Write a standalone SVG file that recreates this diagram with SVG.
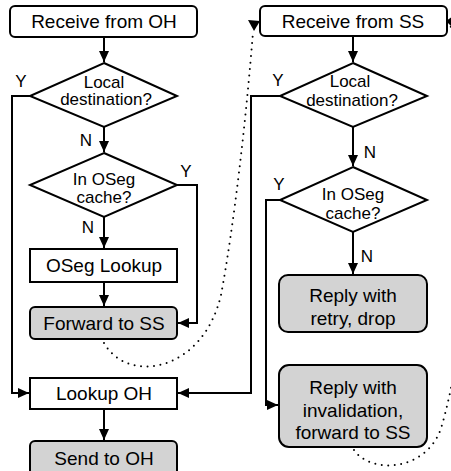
<svg xmlns="http://www.w3.org/2000/svg" width="451" height="471" viewBox="0 0 451 471">
<style>
.box{fill:#fff;stroke:#000;stroke-width:2}
.gray{fill:#d3d3d3;stroke:#000;stroke-width:2}
.dia{fill:#fff;stroke:#000;stroke-width:2}
.t{font-family:"Liberation Sans",Arial,Helvetica,sans-serif;font-size:19px;text-anchor:middle;fill:#000}
.d{font-family:"Liberation Sans",Arial,Helvetica,sans-serif;font-size:17px;text-anchor:middle;fill:#000}
.lbl{font-family:"Liberation Sans",Arial,Helvetica,sans-serif;font-size:17px;text-anchor:middle;fill:#000}
.c{fill:none;stroke:#000;stroke-width:2}
.dot{fill:none;stroke:#000;stroke-width:2;stroke-dasharray:0 6.5;stroke-linecap:round}
</style>
<defs>
<marker id="ah" markerUnits="userSpaceOnUse" markerWidth="12" markerHeight="10" refX="11" refY="5" orient="auto">
<path d="M0,0 L11,5 L0,10 Z" fill="#000"/>
</marker>
</defs>
<g id="connectors">
<path class="c" d="M104,37 V62" marker-end="url(#ah)"/>
<path class="c" d="M104,127 V152" marker-end="url(#ah)"/>
<path class="c" d="M104,217 V248" marker-end="url(#ah)"/>
<path class="c" d="M104,282 V306" marker-end="url(#ah)"/>
<path class="c" d="M30,96 H12 V393 H29" marker-end="url(#ah)"/>
<path class="c" d="M177,185 H197 V323 H178" marker-end="url(#ah)"/>
<path class="c" d="M104,409 V440" marker-end="url(#ah)"/>
<path class="c" d="M280,96 H251 V393 H178" marker-end="url(#ah)"/>
<path class="c" d="M353,36 V62" marker-end="url(#ah)"/>
<path class="c" d="M353,127 V166" marker-end="url(#ah)"/>
<path class="c" d="M353,232 V274" marker-end="url(#ah)"/>
<path class="c" d="M280,200 H266 V405 H278" marker-end="url(#ah)"/>
<path class="dot" d="M104,343 C128,385 203,372 221,295 C234,225 246,120 253,32"/>
<path d="M248,20 L260,21 L254,31 Z" fill="#000"/>
<path class="dot" d="M354,450 C372,476 430,470 442,425 C452,390 456,360 462,330 C475,250 472,100 450,24"/>
<path d="M446,21 L453,16 L453,28 Z" fill="#000"/>
<text class="lbl" x="21" y="87">Y</text>
<text class="lbl" x="86" y="146">N</text>
<text class="lbl" x="186" y="177">Y</text>
<text class="lbl" x="88" y="233">N</text>
<text class="lbl" x="278" y="86">Y</text>
<text class="lbl" x="370" y="158">N</text>
<text class="lbl" x="279" y="190">Y</text>
<text class="lbl" x="367" y="262">N</text>
</g>
<g id="recv-oh">
<rect class="box" x="10" y="6" width="187" height="31" rx="5"/>
<text class="t" x="104" y="28">Receive from OH</text>
</g>
<g id="local-dest-1">
<polygon class="dia" points="104,63 177,96 104,127 30,96"/>
<text class="d" x="104" y="87.5">Local</text>
<text class="d" x="106" y="105">destination?</text>
</g>
<g id="oseg-cache-1">
<polygon class="dia" points="104,153 177,185 104,217 30,185"/>
<text class="d" x="104" y="185">In OSeg</text>
<text class="d" x="104" y="203">cache?</text>
</g>
<g id="oseg-lookup">
<rect class="box" x="30" y="249" width="147" height="33"/>
<text class="t" x="104" y="272">OSeg Lookup</text>
</g>
<g id="forward-ss">
<rect class="gray" x="30" y="307" width="147" height="32" rx="5"/>
<text class="t" x="104" y="330">Forward to SS</text>
</g>
<g id="lookup-oh">
<rect class="box" x="30" y="378" width="147" height="31"/>
<text class="t" x="104" y="400">Lookup OH</text>
</g>
<g id="send-oh">
<rect class="gray" x="30" y="441" width="147" height="40" rx="5"/>
<text class="t" x="104" y="465">Send to OH</text>
</g>
<g id="recv-ss">
<rect class="box" x="260" y="6" width="187" height="30" rx="5"/>
<text class="t" x="353" y="28">Receive from SS</text>
</g>
<g id="local-dest-2">
<polygon class="dia" points="353,63 427,96 353,127 280,96"/>
<text class="d" x="350" y="87">Local</text>
<text class="d" x="352" y="106">destination?</text>
</g>
<g id="oseg-cache-2">
<polygon class="dia" points="353,167 427,200 353,232 280,200"/>
<text class="d" x="353" y="200">In OSeg</text>
<text class="d" x="353" y="219">cache?</text>
</g>
<g id="reply-retry">
<rect class="gray" x="279" y="275" width="148" height="57" rx="9"/>
<text class="t" x="353" y="302">Reply with</text>
<text class="t" x="353" y="325">retry, drop</text>
</g>
<g id="reply-invalidation">
<rect class="gray" x="279" y="365" width="148" height="82" rx="10"/>
<text class="t" x="353" y="394">Reply with</text>
<text class="t" x="353" y="417">invalidation,</text>
<text class="t" x="353" y="439">forward to SS</text>
</g>
</svg>
